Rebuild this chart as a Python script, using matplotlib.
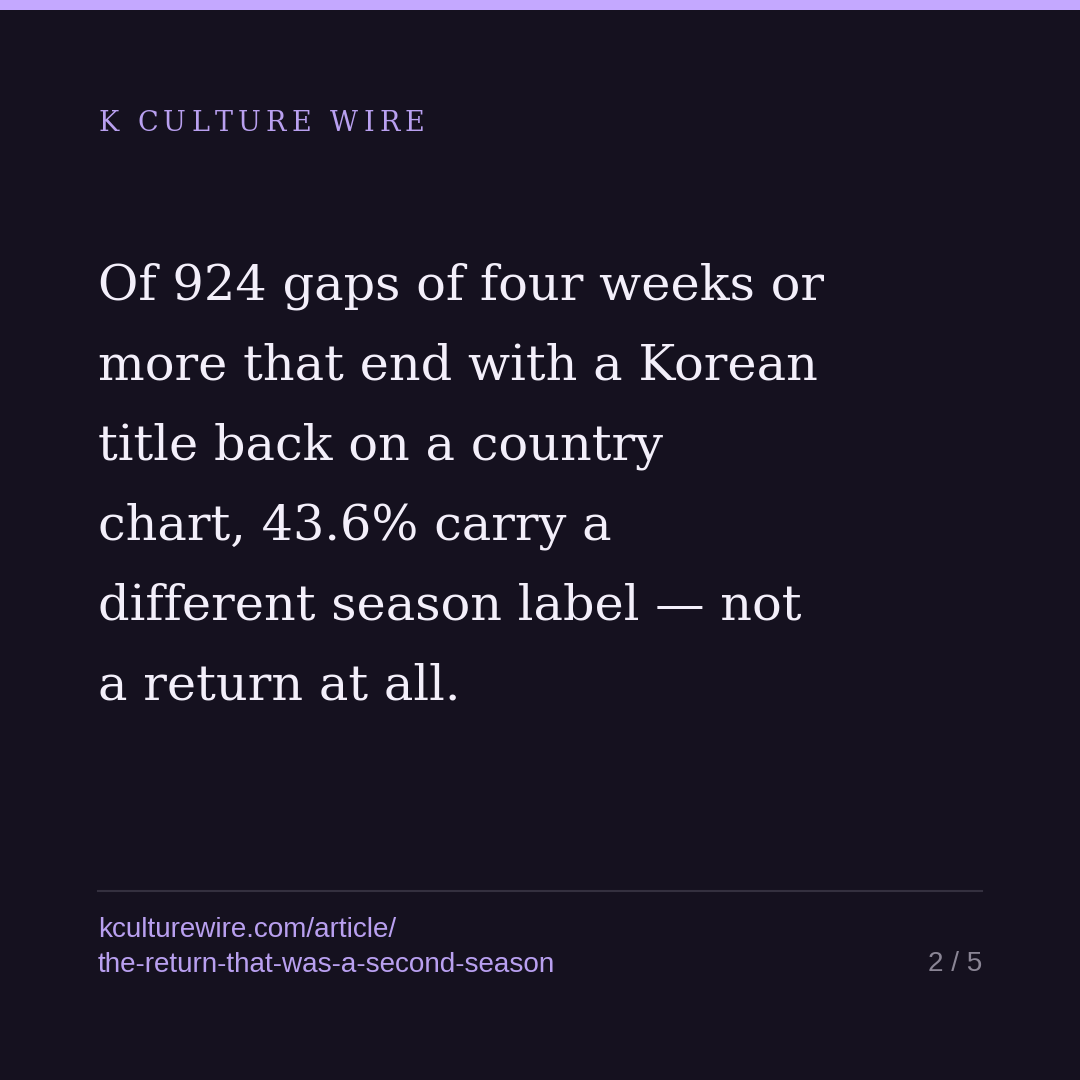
import matplotlib.pyplot as plt

# colours
bg = "#15111f"
accent = "#c4a8ff"
headline_color = "#f3effa"
url_color = "#b9a0f0"
page_color = "#8a8595"
rule_color = "#34303f"

kicker = "K CULTURE WIRE"
headline_lines = [
    "Of 924 gaps of four weeks or",
    "more that end with a Korean",
    "title back on a country",
    "chart, 43.6% carry a",
    "different season label \u2014 not",
    "a return at all.",
]
url_lines = ["kculturewire.com/article/", "the-return-that-was-a-second-season"]
page_label = "2 / 5"

W = H = 1080
fig = plt.figure(figsize=(10.8, 10.8), dpi=100)
fig.patch.set_facecolor(bg)


def px(x, y):
    return x / W, 1 - y / H


# top accent bar
fig.patches.append(plt.Rectangle((0, 1 - 10 / H), 1, 10 / H, transform=fig.transFigure,
                                  facecolor=accent, edgecolor="none"))

# kicker with letter spacing
renderer = fig.canvas.get_renderer()
x = 98
tracking = 5.2
for ch in kicker:
    t = fig.text(*px(x, 131), ch, fontsize=19.5, family="DejaVu Serif", color=url_color,
                 va="baseline", ha="left")
    w = t.get_window_extent(renderer).width
    x += w + tracking

# headline
for i, line in enumerate(headline_lines):
    fig.text(*px(98, 300 + i * 80), line, fontsize=35.6, family="DejaVu Serif",
             color=headline_color, va="baseline", ha="left")

# rule
fig.add_artist(plt.Line2D([98 / W, 982 / W], [1 - 891 / H] * 2, transform=fig.transFigure,
                          color=rule_color, linewidth=1.5))

# footer
for i, line in enumerate(url_lines):
    fig.text(*px(98, 937 + i * 34.5), line, fontsize=20.1, family="Liberation Sans",
             color=url_color, va="baseline", ha="left")
fig.text(*px(982, 971), page_label, fontsize=20.1, family="Liberation Sans",
         color=page_color, va="baseline", ha="right")

fig.savefig("out.png", dpi=100, facecolor=bg)
